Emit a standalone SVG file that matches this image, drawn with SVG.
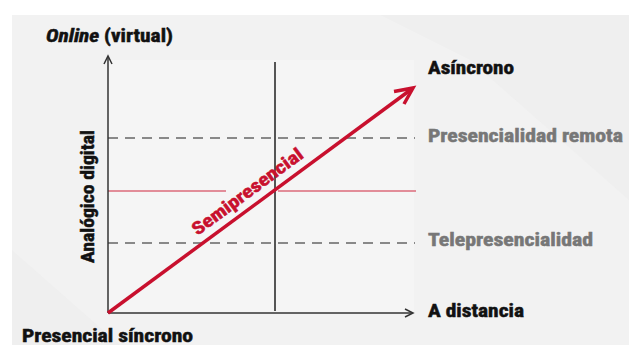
<svg xmlns="http://www.w3.org/2000/svg" width="629" height="345" viewBox="0 0 629 345">
  <style>
    .lbl { font-family: "Liberation Sans Narrow", "Roboto Condensed", "Liberation Sans", Arial, sans-serif; font-weight: bold; font-size: 18px; fill: #111; stroke: #111; stroke-width: 0.5; }
    .gray { fill: #777; stroke: #777; }
    .red { fill: #c8102e; stroke: #c8102e; }
    .axis { stroke: #333; stroke-width: 1.5; fill: none; }
    .dash { stroke: #666; stroke-width: 1.5; stroke-dasharray: 10 7; fill: none; }
    .redline { stroke: #d0273e; stroke-width: 1.2; fill: none; }
  </style>
  <rect x="0" y="0" width="629" height="345" fill="#ffffff"/>
  <rect x="12" y="15" width="617" height="330" fill="#f2f2f2"/>
  <polygon points="380,15 629,15 629,200 470,60" fill="#ececec" opacity="0.6"/>
  <polygon points="12,250 120,345 12,345" fill="#ececec" opacity="0.6"/>
  <rect x="108" y="60" width="306" height="253" fill="#f5f5f5"/>

  <g id="connectors">
    <path class="dash" d="M108,138 H415"/>
    <path class="dash" d="M108,243 H415"/>
    <path class="redline" d="M108,191 H226 M278,191 H416"/>
    <path d="M275,62 V311" stroke="#555" stroke-width="2" fill="none"/>
    <path class="axis" d="M108,313 V57"/>
    <path class="axis" d="M104,64 L108,56 L112,64"/>
    <path class="axis" d="M108,313 H412"/>
    <path class="axis" d="M405,309 L413,313 L405,317"/>
    <path d="M108,313 L411,89.5" stroke="#c8102e" stroke-width="3.5" fill="none"/>
    <path d="M394,91.5 L413,88 L404,104" stroke="#c8102e" stroke-width="3.5" fill="none" stroke-linejoin="miter" stroke-miterlimit="10"/>
  </g>

  <g id="label-online">
    <text class="lbl" x="46" y="42" textLength="127" lengthAdjust="spacingAndGlyphs"><tspan font-style="italic">Online</tspan> (virtual)</text>
  </g>
  <g id="label-analogico">
    <text class="lbl" transform="translate(94,263) rotate(-90)" x="0" y="0" textLength="133" lengthAdjust="spacingAndGlyphs">Analógico digital</text>
  </g>
  <g id="label-presencial">
    <text class="lbl" x="22" y="342" textLength="171" lengthAdjust="spacingAndGlyphs">Presencial síncrono</text>
  </g>
  <g id="label-asincrono">
    <text class="lbl" x="428" y="74" textLength="86" lengthAdjust="spacingAndGlyphs">Asíncrono</text>
  </g>
  <g id="label-remota">
    <text class="lbl gray" x="428" y="142" textLength="195" lengthAdjust="spacingAndGlyphs">Presencialidad remota</text>
  </g>
  <g id="label-tele">
    <text class="lbl gray" x="428" y="246" textLength="165" lengthAdjust="spacingAndGlyphs">Telepresencialidad</text>
  </g>
  <g id="label-distancia">
    <text class="lbl" x="428" y="317" textLength="96" lengthAdjust="spacingAndGlyphs">A distancia</text>
  </g>
  <g id="label-semipresencial">
    <text class="lbl red" font-size="16" transform="translate(251,196.5) rotate(-36.4)" x="0" y="0" text-anchor="middle" textLength="133" lengthAdjust="spacingAndGlyphs">Semipresencial</text>
  </g>
</svg>
